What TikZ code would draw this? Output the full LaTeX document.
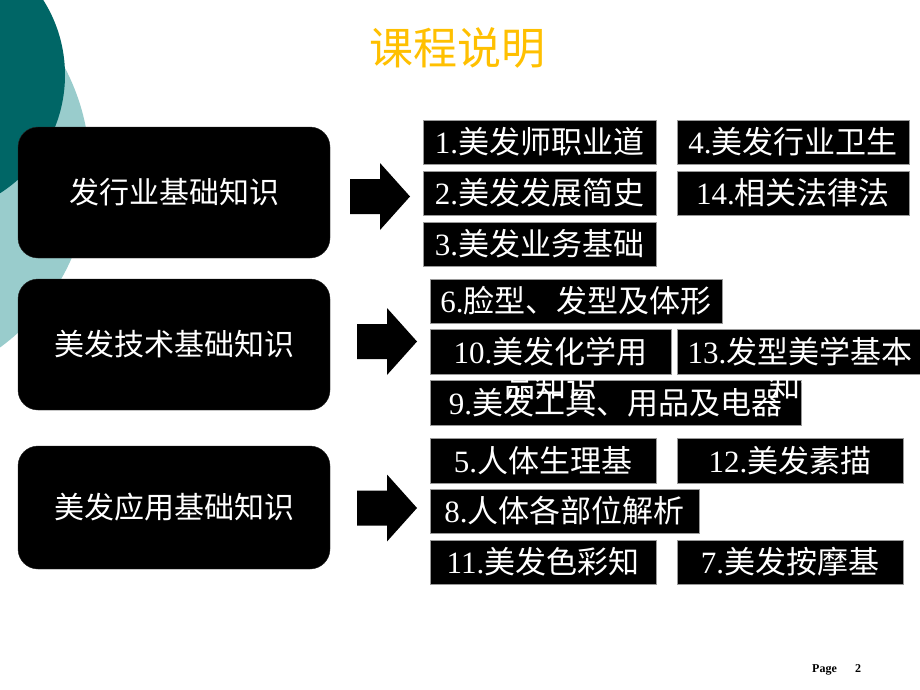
\documentclass[tikz,border=0pt]{standalone}
\usepackage{fontspec}
\setmainfont{Liberation Serif}
\newfontfamily\cjk{Noto Sans CJK SC}
\definecolor{darkteal}{RGB}{0,102,102}
\definecolor{lightteal}{RGB}{153,204,204}
\definecolor{titlegold}{RGB}{255,192,0}
\newcommand\zh[1]{{\cjk #1}}
\newcommand\blockarr[2]{%
  \fill[black] (#1-30,#2-17.5) -- (#1,#2-17.5) -- (#1,#2-33.5) -- (#1+30,#2)
    -- (#1,#2+33.5) -- (#1,#2+17.5) -- (#1-30,#2+17.5) -- cycle;}
\begin{document}
\begin{tikzpicture}[x=1pt,y=-1pt,
  bigbox/.style={fill=black, draw=black!85, rounded corners=20pt,
    minimum width=312pt, inner sep=0pt, text=white,
    font=\fontsize{30}{36}\selectfont\cjk, text height=26.4pt, text depth=3.6pt},
  sbox/.style={fill=black, draw=black!40, line width=0.8pt, inner sep=0pt,
    text=white, font=\fontsize{31}{36}\selectfont,
    text height=27.3pt, text depth=3.7pt},
  spill/.style={inner sep=0pt, text=white, font=\fontsize{31}{36}\selectfont\cjk,
    text height=27.3pt, text depth=3.7pt}]
\clip (0,0) rectangle (920,690);
\fill[white] (0,0) rectangle (920,690);
% decoration
\fill[lightteal] (-130,170) circle (220);
\fill[darkteal] (-75,75) circle (140);
% title
\node[text=titlegold, font=\fontsize{44}{50}\selectfont\cjk, inner sep=0pt,
  text height=38.7pt, text depth=5.3pt] (title) at (457,48) {课程说明};
% big boxes
\node[bigbox, minimum height=131pt] (A) at (174,192.5) {发行业基础知识};
\node[bigbox, minimum height=131pt] (B) at (174,344.5) {美发技术基础知识};
\node[bigbox, minimum height=123pt] (C) at (174,507.5) {美发应用基础知识};
% arrows
\blockarr{380}{196.5}
\blockarr{387}{341.5}
\blockarr{387}{508}
% group 1
\node[sbox, minimum width=233pt, minimum height=44pt] (b1) at (539.5,142) {1.\zh{美发师职业道}};
\node[sbox, minimum width=232pt, minimum height=44pt] (b4) at (793,142) {4.\zh{美发行业卫生}};
\node[sbox, minimum width=233pt, minimum height=44pt] (b2) at (539.5,193) {2.\zh{美发发展简史}};
\node[sbox, minimum width=232pt, minimum height=44pt] (b14) at (793,193) {14.\zh{相关法律法}};
\node[sbox, minimum width=233pt, minimum height=44pt] (b3) at (539.5,244) {3.\zh{美发业务基础}};
% group 2
\node[sbox, minimum width=292pt, minimum height=44pt] (b6) at (576,301) {6.\zh{脸型、发型及体形}};
\node[sbox, minimum width=241pt, minimum height=45pt] (b10) at (550.5,352) {10.\zh{美发化学用}};
\node[sbox, minimum width=246pt, minimum height=45pt] (b13) at (800,352) {13.\zh{发型美学基本}};
\node[sbox, minimum width=371pt, minimum height=45pt] (b9) at (615.5,402.5) {9.\zh{美发工具、用品及电器}};
\begin{scope}
\clip (430,380) rectangle (801,425);
\node[spill] (s10) at (551,386) {品知识};
\node[spill] (s13) at (800,386) {知识};
\end{scope}
% group 3
\node[sbox, minimum width=226pt, minimum height=45pt] (b5) at (543,460.5) {5.\zh{人体生理基}};
\node[sbox, minimum width=226pt, minimum height=45pt] (b12) at (790,460.5) {12.\zh{美发素描}};
\node[sbox, minimum width=269pt, minimum height=44pt] (b8) at (564.5,511) {8.\zh{人体各部位解析}};
\node[sbox, minimum width=226pt, minimum height=44pt] (b11) at (543,562) {11.\zh{美发色彩知}};
\node[sbox, minimum width=226pt, minimum height=44pt] (b7) at (790,562) {7.\zh{美发按摩基}};
% page number
\node[font=\fontsize{12}{14}\selectfont\bfseries, inner sep=0pt, anchor=base west] (pg) at (812,672) {Page};
\node[font=\fontsize{12}{14}\selectfont\bfseries, inner sep=0pt, anchor=base west] (pn) at (855,672) {2};
\end{tikzpicture}
\end{document}
